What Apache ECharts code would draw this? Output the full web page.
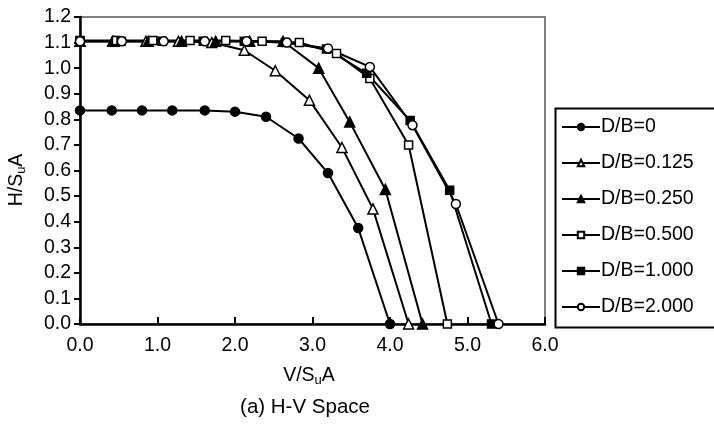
<!DOCTYPE html>
<html>
<head>
<meta charset="utf-8">
<script src="https://cdn.jsdelivr.net/npm/echarts@6/dist/echarts.min.js"></script>
<style>
  html, body { margin: 0; padding: 0; background: #fff; }
  #main { width: 714px; height: 424px; }
</style>
</head>
<body>
<div id="main"></div>
<script>
// values
var names = ["D/B=0", "D/B=0.125", "D/B=0.250", "D/B=0.500", "D/B=1.000", "D/B=2.000"];

var v0   = [0, 0.41, 0.80, 1.19, 1.61, 2.00, 2.40, 2.82, 3.20, 3.59, 4.00];
var h0   = [0.835, 0.835, 0.835, 0.835, 0.835, 0.83, 0.81, 0.725, 0.59, 0.375, 0];
var v125 = [0, 0.42, 0.85, 1.27, 1.70, 2.12, 2.52, 2.96, 3.38, 3.78, 4.24];
var h125 = [1.105, 1.105, 1.105, 1.105, 1.10, 1.07, 0.99, 0.875, 0.69, 0.45, 0];
var v250 = [0, 0.44, 0.88, 1.31, 1.75, 2.19, 2.62, 3.08, 3.48, 3.94, 4.42];
var h250 = [1.105, 1.105, 1.105, 1.105, 1.105, 1.105, 1.105, 1.0, 0.79, 0.526, 0];
var v500 = [0, 0.47, 0.94, 1.42, 1.88, 2.35, 2.83, 3.31, 3.74, 4.24, 4.74];
var h500 = [1.108, 1.108, 1.108, 1.108, 1.108, 1.105, 1.10, 1.057, 0.96, 0.70, 0];
var v1   = [0, 0.53, 1.06, 1.59, 2.12, 2.65, 3.18, 3.70, 4.26, 4.77, 5.31];
var h1   = [1.105, 1.105, 1.105, 1.105, 1.105, 1.10, 1.075, 0.98, 0.795, 0.523, 0];
var v2   = [0, 0.54, 1.08, 1.61, 2.15, 2.67, 3.20, 3.74, 4.29, 4.85, 5.40];
var h2   = [1.105, 1.105, 1.105, 1.105, 1.105, 1.10, 1.077, 1.005, 0.777, 0.469, 0];

var xs = [v0, v125, v250, v500, v1, v2];
var ys = [h0, h125, h250, h500, h1, h2];
var symbols = ["circle", "triangle", "triangle", "rect", "rect", "circle"];
var sizes = [9, 10, 10, 8, 8, 9];
var filled = [true, false, true, false, true, false];

var FONT = "Liberation Sans, Arial, sans-serif";
var FS = 19.5;

function pairs(a, b) {
    return a.map(function (x, i) { return [x, b[i]]; });
}

var series = names.map(function (n, i) {
    return {
        name: n,
        type: "line",
        data: pairs(xs[i], ys[i]),
        symbol: symbols[i],
        symbolSize: sizes[i],
        showAllSymbol: true,
        lineStyle: { color: "#000", width: 2 },
        itemStyle: {
            color: filled[i] ? "#000" : "#fff",
            borderColor: "#000",
            borderWidth: 1.5
        },
        emphasis: { disabled: true },
        animation: false
    };
});

var subRich = {
    a: { fontSize: FS, fontFamily: FONT, color: "#000", lineHeight: 22 },
    s: { fontSize: 13, fontFamily: FONT, color: "#000", lineHeight: 13, verticalAlign: "bottom" }
};

var chart = echarts.init(document.getElementById("main"));
chart.setOption({
    backgroundColor: "#fff",
    animation: false,
    grid: {
        left: 80, top: 17, right: 169, bottom: 100,
        show: true, borderColor: "#808080", borderWidth: 2
    },
    xAxis: {
        type: "value", min: 0, max: 6, interval: 1,
        axisLine: { lineStyle: { color: "#000", width: 2.5 } },
        axisTick: { inside: true, length: 7, lineStyle: { color: "#000", width: 2 } },
        axisLabel: {
            margin: 12, color: "#000", fontSize: FS, fontFamily: FONT,
            formatter: function (v) { return v.toFixed(1); }
        },
        splitLine: { show: false }
    },
    yAxis: {
        type: "value", min: 0, max: 1.2, interval: 0.1,
        axisLine: { lineStyle: { color: "#000", width: 2.5 } },
        axisTick: { length: 6, lineStyle: { color: "#000", width: 2 } },
        axisLabel: {
            margin: 9, color: "#000", fontSize: FS, fontFamily: FONT,
            formatter: function (v) { return v.toFixed(1); }
        },
        splitLine: { show: false }
    },
    legend: {
        orient: "vertical",
        left: 561, top: 117, padding: 0,
        itemWidth: 38, itemHeight: 8, itemGap: 16,
        textStyle: { fontSize: FS, fontFamily: FONT, color: "#000", padding: [0, 0, 0, -4] },
        selectedMode: false,
        data: names
    },
    graphic: [
        {
            type: "rect", left: 553, top: 106, silent: true,
            shape: { width: 200, height: 219 },
            style: { fill: "none", stroke: "#000", lineWidth: 2 }
        },
        {
            type: "text", x: 17, y: 180, rotation: Math.PI / 2, silent: true,
            style: {
                text: "{a|H/S}{s|u}{a|A}", rich: subRich,
                align: "center", verticalAlign: "middle"
            }
        },
        {
            type: "text", x: 309, y: 376, silent: true,
            style: {
                text: "{a|V/S}{s|u}{a|A}", rich: subRich,
                align: "center", verticalAlign: "middle"
            }
        },
        {
            type: "text", x: 305, y: 407, silent: true,
            style: {
                text: "(a) H-V Space", fontSize: FS + 1, fontFamily: FONT, fill: "#000",
                align: "center", verticalAlign: "middle"
            }
        }
    ],
    series: series
});
</script>
</body>
</html>
